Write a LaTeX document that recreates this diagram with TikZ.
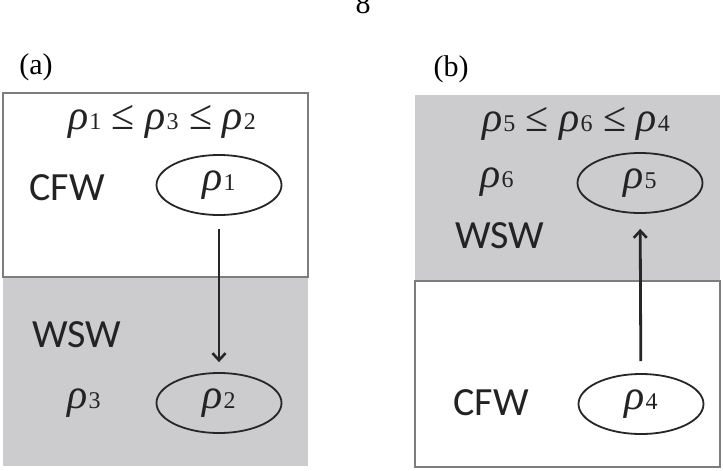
\documentclass[tikz,border=0pt]{standalone}
\usepackage{fontspec}
\setmainfont{Liberation Serif}
\newfontfamily\calfont{Carlito}
\usetikzlibrary{shapes.geometric,arrows.meta}
\definecolor{regiongray}{RGB}{204,204,207}
\definecolor{txt}{RGB}{35,35,35}
\definecolor{bordergray}{RGB}{125,125,125}
\newcommand\rh[1]{\textit{ρ}\kern1pt{\fontsize{24}{24}\selectfont #1}}
\begin{document}
\begin{tikzpicture}[x=1pt,y=-1pt,
  lbl/.style={font=\calfont\fontsize{40}{40}\selectfont, text=txt, inner sep=0},
  rholbl/.style={font=\fontsize{42}{42}\selectfont, text=txt, inner sep=0},
  ineq/.style={font=\fontsize{42}{42}\selectfont, text=txt, inner sep=0},
  panel/.style={font=\fontsize{30}{30}\selectfont, text=black, inner sep=0},
  ell/.style={draw=black!85, line width=1.8pt, ellipse, minimum width=125pt, minimum height=60pt, inner sep=0, text=txt, font=\fontsize{42}{42}\selectfont},
  region/.style={fill=regiongray},
  box/.style={draw=bordergray, line width=1.5pt, fill=white},
  flow/.style={draw=black!85, line width=2.8pt, -{Straight Barb[length=7pt,width=13pt,line width=2.6pt]}}]
\useasboundingbox (0,0) rectangle (723,471);
% page number
\node[panel, anchor=base] (pg) at (363,13) {8};
% panel (a)
\node[panel] (la) at (36,67) {(a)};
\fill[region] (3,277) rectangle (308,466);
\draw[box] (3,93) rectangle (308,277);
\node[ineq] (ia) at (162,122) {\rh{1} ≤ \rh{3} ≤ \rh{2}};
\node[lbl] (cfwa) at (67,188) {CFW};
\node[lbl] (wswa) at (77,335) {WSW};
\node[rholbl] (r3) at (84,403) {\rh{3}};
\node[ell] (e1) at (219,185) {\rh{1}};
\node[ell] (e2) at (219,403) {\rh{2}};
\draw[flow, shorten <=13pt, shorten >=10pt] (e1) -- (e2);
% panel (b)
\node[panel] (lb) at (451,69) {(b)};
\fill[region] (415,95) rectangle (720,281);
\draw[box] (415,281) rectangle (720,467);
\node[ineq] (ib) at (576,124) {\rh{5} ≤ \rh{6} ≤ \rh{4}};
\node[rholbl] (r6) at (497,182) {\rh{6}};
\node[lbl] (wswb) at (500,236) {WSW};
\node[lbl] (cfwb) at (491,403) {CFW};
\node[ell] (e5) at (640,183) {\rh{5}};
\node[ell] (e4) at (641,404) {\rh{4}};
\draw[flow, shorten <=12pt, shorten >=15pt] (e4) -- (e5);
\end{tikzpicture}
\end{document}
